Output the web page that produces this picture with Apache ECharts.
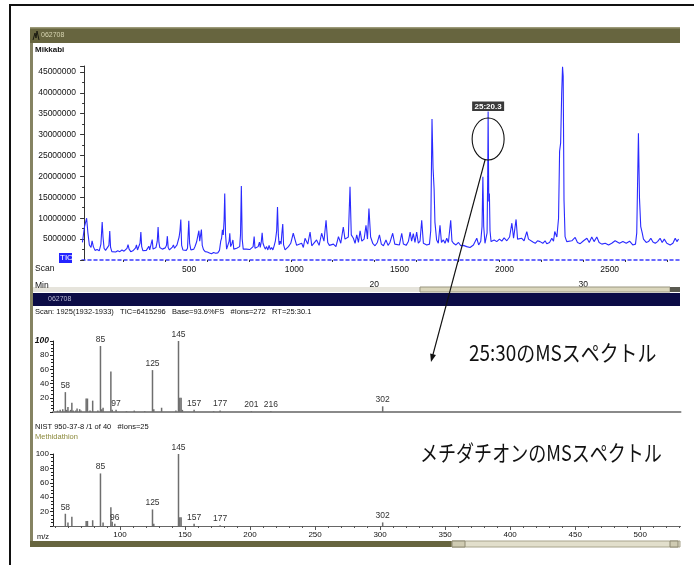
<!DOCTYPE html>
<html>
<head>
<meta charset="utf-8">
<script src="https://cdn.jsdelivr.net/npm/echarts@6/dist/echarts.min.js"></script>
<style>
  html, body { margin: 0; padding: 0; background: #fff; }
  #c { width: 694px; height: 565px; }
</style>
</head>
<body>
<div id="c"></div>
<script>
// ---- Total ion chromatogram: [scan, abundance] ----
const ticTrace = [
  [-8,4.2e6],[2,8.0e6],[12,10.0e6],[18,6.5e6],[25,3.6e6],[33,3.0e6],[38,4.6e6],[44,3.2e6],[52,2.3e6],[62,2.5e6],
  [72,2.2e6],[80,3.8e6],[86,9.1e6],[90,5.5e6],[95,2.8e6],[102,2.3e6],[110,2.4e6],[118,3.5e6],[122,6.9e6],[126,3.0e6],
  [132,2.0e6],[140,2.3e6],[150,1.9e6],[160,2.2e6],[170,2.0e6],[180,2.4e6],[190,2.1e6],[198,2.3e6],[204,2.8e6],[209,3.7e6],
  [214,2.6e6],[222,2.0e6],[232,2.2e6],[240,2.5e6],[245,2.9e6],[249,3.6e6],[254,2.4e6],[260,2.8e6],[266,4.0e6],[270,6.7e6],
  [274,3.2e6],[280,2.2e6],[288,2.5e6],[296,2.3e6],[302,2.6e6],[308,3.3e6],[312,2.4e6],[318,2.8e6],[324,4.9e6],[328,2.6e6],
  [334,2.5e6],[342,3.0e6],[348,4.5e6],[352,7.9e6],[356,4.2e6],[360,3.0e6],[366,3.3e6],[372,2.6e6],[380,2.4e6],[386,2.9e6],
  [392,3.5e6],[396,5.7e6],[400,3.0e6],[406,2.4e6],[414,2.6e6],[420,3.1e6],[425,3.6e6],[430,2.8e6],[436,3.2e6],[442,3.6e6],
  [448,4.0e6],[452,5.5e6],[456,7.0e6],[460,9.7e6],[464,3.5e6],[470,2.4e6],[478,2.6e6],[486,2.3e6],[492,2.8e6],[498,9.4e6],
  [502,4.0e6],[508,2.4e6],[516,2.2e6],[522,2.6e6],[528,3.3e6],[535,4.3e6],[540,4.5e6],[546,7.0e6],[550,4.5e6],[554,4.8e6],
  [558,7.3e6],[562,3.5e6],[568,2.5e6],[576,2.0e6],[586,1.9e6],[596,1.7e6],[606,1.5e6],[616,1.8e6],[626,1.6e6],[636,1.7e6],
  [644,2.3e6],[650,4.5e6],[654,5.2e6],[658,7.2e6],[662,6.0e6],[666,9.5e6],[669,15.9e6],[673,6.0e6],[678,2.6e6],[684,3.0e6],
  [690,4.5e6],[693,6.4e6],[697,3.2e6],[703,3.9e6],[708,4.8e6],[712,2.6e6],[718,2.4e6],[726,2.8e6],[734,2.6e6],[740,3.2e6],
  [744,6.0e6],[748,17.7e6],[752,5.0e6],[757,2.6e6],[764,2.4e6],[772,2.6e6],[780,2.3e6],[788,2.5e6],[796,2.6e6],[804,3.2e6],
  [809,5.6e6],[813,2.8e6],[820,2.5e6],[828,3.2e6],[834,4.3e6],[838,3.0e6],[843,4.4e6],[847,6.5e6],[851,4.0e6],[856,3.3e6],
  [862,2.6e6],[868,3.2e6],[874,2.4e6],[880,3.5e6],[886,2.5e6],[892,3.0e6],[898,2.4e6],[904,3.4e6],[910,4.6e6],[916,7.0e6],
  [920,12.7e6],[924,6.0e6],[928,3.6e6],[932,4.5e6],[937,3.8e6],[941,6.5e6],[945,8.6e6],[949,3.6e6],[956,2.4e6],[972,3.2e6],
  [983,4.0e6],[995,6.4e6],[1003,6.8e6],[1011,3.5e6],[1019,3.2e6],[1035,4.0e6],[1043,3.0e6],[1051,5.2e6],[1064,3.8e6],[1075,6.7e6],
  [1083,3.4e6],[1091,3.8e6],[1106,4.8e6],[1118,3.5e6],[1130,6.4e6],[1141,4.5e6],[1151,9.5e6],[1159,4.2e6],[1167,3.5e6],[1186,3.8e6],
  [1198,3.2e6],[1210,5.6e6],[1221,4.0e6],[1233,7.9e6],[1241,5.0e6],[1249,4.6e6],[1257,5.5e6],[1265,17.5e6],[1271,6.0e6],[1281,5.2e6],
  [1289,4.0e6],[1297,6.0e6],[1305,4.2e6],[1313,7.0e6],[1321,4.5e6],[1332,5.0e6],[1341,8.3e6],[1348,5.0e6],[1355,12.3e6],[1363,5.5e6],
  [1373,4.0e6],[1384,3.4e6],[1395,4.2e6],[1405,6.0e6],[1414,3.8e6],[1424,3.4e6],[1436,4.8e6],[1446,3.5e6],[1455,4.2e6],[1468,6.4e6],
  [1478,3.8e6],[1487,4.0e6],[1500,3.6e6],[1511,6.4e6],[1519,3.8e6],[1532,3.5e6],[1543,4.5e6],[1551,6.7e6],[1558,4.5e6],[1566,6.3e6],
  [1574,4.2e6],[1582,6.7e6],[1590,4.0e6],[1598,4.5e6],[1606,9.5e6],[1614,4.0e6],[1630,3.6e6],[1643,3.8e6],[1649,7.0e6],[1655,33.7e6],
  [1660,22.0e6],[1665,17.0e6],[1669,9.0e6],[1677,4.8e6],[1685,4.0e6],[1693,8.3e6],[1700,4.2e6],[1709,4.8e6],[1717,4.0e6],[1725,5.2e6],
  [1733,4.2e6],[1744,9.5e6],[1750,4.5e6],[1757,4.0e6],[1769,3.6e6],[1781,4.2e6],[1792,3.4e6],[1804,3.5e6],[1820,3.2e6],[1836,3.0e6],
  [1852,3.6e6],[1868,5.2e6],[1877,3.6e6],[1887,4.5e6],[1893,8.0e6],[1897,19.9e6],[1901,8.0e6],[1907,4.0e6],[1913,4.2e6],[1917,6.5e6],
  [1920,20.0e6],[1922,35.5e6],[1925,14.0e6],[1928,15.9e6],[1931,7.0e6],[1936,4.4e6],[1943,4.2e6],[1951,4.8e6],[1963,4.4e6],[1976,5.0e6],
  [1987,4.5e6],[1998,5.3e6],[2011,4.6e6],[2024,5.5e6],[2035,8.8e6],[2043,5.2e6],[2049,5.5e6],[2055,9.7e6],[2062,5.0e6],[2071,4.6e6],
  [2082,5.2e6],[2093,4.6e6],[2106,6.8e6],[2114,5.0e6],[2122,5.2e6],[2135,4.3e6],[2146,4.0e6],[2157,4.6e6],[2169,4.4e6],[2182,4.0e6],
  [2193,4.6e6],[2201,3.9e6],[2214,4.2e6],[2225,5.2e6],[2233,4.5e6],[2239,6.8e6],[2249,5.5e6],[2257,10.0e6],[2262,26.0e6],[2267,28.0e6],
  [2272,40.0e6],[2276,46.2e6],[2279,44.0e6],[2283,14.3e6],[2288,5.6e6],[2296,4.4e6],[2304,4.0e6],[2320,4.6e6],[2336,5.4e6],[2347,4.2e6],
  [2360,3.9e6],[2376,4.6e6],[2392,5.2e6],[2403,4.2e6],[2415,5.5e6],[2426,4.4e6],[2439,5.5e6],[2450,4.2e6],[2463,3.8e6],[2479,4.0e6],
  [2495,3.6e6],[2510,4.0e6],[2526,4.6e6],[2534,5.0e6],[2547,4.0e6],[2563,4.4e6],[2579,4.0e6],[2595,4.5e6],[2610,3.6e6],[2623,3.8e6],
  [2629,6.5e6],[2637,30.3e6],[2642,14.8e6],[2648,8.0e6],[2655,6.5e6],[2661,5.0e6],[2674,4.2e6],[2685,4.4e6],[2696,5.2e6],[2706,4.3e6],
  [2717,4.0e6],[2728,4.4e6],[2740,5.2e6],[2750,4.2e6],[2760,5.0e6],[2772,4.0e6],[2788,3.6e6],[2801,4.0e6],[2812,5.2e6],[2820,4.4e6],
  [2828,5.0e6]
];
const ticScanTicks = [500, 1000, 1500, 2000, 2500];
const ticMinuteTicks = [8, 10, 12, 14, 16, 18, 20, 22, 24, 26, 28, 30, 32, 34];
const ticMinuteLabels = [20, 30];
const selectedScan = 1922;           // apex picked for the spectrum below

// ---- Mass spectrum at the selected scan: [m/z, relative abundance %] ----
const scanSpectrum = [
  [52,2],[54,3],[56,4],[58,28],[59,3],[60,7],[62,3],[63,13],[64,2],[66,2],[67,5],[69,4],[70,2],
  [74,19],[75,19],[77,2],[79,16],[83,2],[85,93],[86,4],[87,6],[93,57],[94,3],[97,3],[105,1],
  [111,2],[119,1],[125,59],[126,4],[132,6],[143,2],[145,100],[146,20],[147,20],[148,3],[157,3],
  [172,1],[177,2],[201,1],[216,1],[302,8]
];
const scanLabelled = [58, 85, 97, 125, 145, 157, 177, 201, 216, 302];

// ---- Library spectrum (Methidathion) ----
const librarySpectrum = [
  [58,17],[60,5],[63,13],[74,7],[75,7],[79,8],[85,73],[87,5],[93,26],[94,6],[96,3],
  [125,23],[126,3],[145,100],[146,12],[147,12],[157,3],[177,1],[302,5]
];
const libraryLabelled = [58, 85, 96, 125, 145, 157, 177, 302];

const mzLabels = [100, 150, 200, 250, 300, 350, 400, 450, 500];
const mzMinorTicks = [50,60,70,80,90,100,110,120,130,140,150,160,170,180,190,200,210,220,230,240,250,
  260,270,280,290,300,310,320,330,340,350,360,370,380,390,400,410,420,430,440,450,460,470,480,490,500,510,520,530];

// ---- axis ranges ----
const SCAN_MIN = -10, SCAN_MAX = 2830;
const RT_AT_SCAN0 = 6.11, SCANS_PER_MIN = 99.4;
const TIC_MAX = 46.4e6;
const MZ_MIN = 48.5, MZ_MAX = 531;

const FONT = "'Liberation Sans', Arial, sans-serif";
const JP = "'Noto Sans CJK JP', sans-serif";
const plain = function (v) { return String(Math.round(v)); };

function barItems(spec, labelled) {
  return spec.map(function (p) {
    const item = { value: p };
    if (labelled.indexOf(p[0]) >= 0) {
      item.label = { show: true, position: 'top', distance: 2, formatter: String(p[0]),
        fontSize: 8.5, color: '#333', fontFamily: FONT };
    }
    return item;
  });
}

const specYAxis = function (gridIndex, boldTop) {
  return {
    gridIndex: gridIndex, type: 'value', min: 0, max: 100, interval: 20,
    axisLine: { show: true, lineStyle: { color: '#222', width: 1 } },
    axisTick: { show: true, length: 3, lineStyle: { color: '#222' } },
    minorTick: { show: true, splitNumber: 4, length: 2, lineStyle: { color: '#222' } },
    splitLine: { show: false },
    axisLabel: {
      showMinLabel: false, margin: 4, fontSize: 8, color: '#111', fontFamily: FONT,
      formatter: function (v) { return (boldTop && v === 100) ? '{b|100}' : String(v); },
      rich: { b: { fontStyle: 'italic', fontWeight: 'bold', fontSize: 8.5, fontFamily: FONT } }
    }
  };
};

const option = {
  animation: false,
  backgroundColor: '#fff',
  grid: [
    { left: 82, top: 66, width: 597, height: 194 },
    { left: 53, top: 341, width: 627.5, height: 71 },
    { left: 53, top: 454, width: 627.5, height: 72 }
  ],
  xAxis: [
    { // scan number
      gridIndex: 0, type: 'value', min: SCAN_MIN, max: SCAN_MAX, position: 'bottom',
      axisLine: { show: true, onZero: false, lineStyle: { color: '#3a3aff', width: 1.5, type: [3, 3] } },
      axisTick: { show: false },
      splitLine: { show: false },
      axisLabel: { customValues: ticScanTicks, formatter: plain, margin: 5, fontSize: 8.5, color: '#111', fontFamily: FONT }
    },
    { // retention time in minutes
      gridIndex: 0, type: 'value', position: 'bottom', offset: 15,
      min: RT_AT_SCAN0 + SCAN_MIN / SCANS_PER_MIN, max: RT_AT_SCAN0 + SCAN_MAX / SCANS_PER_MIN,
      axisLine: { show: false },
      axisTick: { show: true, customValues: ticMinuteTicks, length: 2, lineStyle: { color: '#333' } },
      splitLine: { show: false },
      axisLabel: { customValues: ticMinuteLabels, formatter: plain, margin: 5, fontSize: 8.5, color: '#111', fontFamily: FONT }
    },
    { // sample spectrum m/z
      gridIndex: 1, type: 'value', min: MZ_MIN, max: MZ_MAX,
      axisLine: { show: true, onZero: false, lineStyle: { color: '#8a8a8a', width: 2 } },
      axisTick: { show: false }, axisLabel: { show: false }, splitLine: { show: false }
    },
    { // library spectrum m/z
      gridIndex: 2, type: 'value', min: MZ_MIN, max: MZ_MAX,
      axisLine: { show: true, onZero: false, lineStyle: { color: '#666', width: 1 } },
      axisTick: { show: true, customValues: mzMinorTicks, length: 2, lineStyle: { color: '#555' } },
      splitLine: { show: false },
      axisLabel: { customValues: mzLabels, formatter: plain, margin: 5, fontSize: 8, color: '#111', fontFamily: FONT }
    },
    { // longer ticks at each labelled m/z
      gridIndex: 2, type: 'value', min: MZ_MIN, max: MZ_MAX,
      axisLine: { show: false },
      axisTick: { show: true, inside: true, customValues: mzLabels, length: 4, lineStyle: { color: '#555' } },
      axisLabel: { show: false }, splitLine: { show: false }
    }
  ],
  yAxis: [
    {
      gridIndex: 0, type: 'value', min: 0, max: TIC_MAX, interval: 5e6,
      axisLine: { show: true, lineStyle: { color: '#333', width: 1 } },
      axisTick: { show: true, length: 4, lineStyle: { color: '#333' } },
      minorTick: { show: true, splitNumber: 2, length: 2, lineStyle: { color: '#333' } },
      splitLine: { show: false },
      axisLabel: { showMinLabel: false, showMaxLabel: false, margin: 6, fontSize: 8.5, color: '#111',
        fontFamily: FONT, formatter: plain }
    },
    specYAxis(1, true),
    specYAxis(2, false)
  ],
  series: [
    {
      name: 'TIC', type: 'line', xAxisIndex: 0, yAxisIndex: 0, data: ticTrace,
      showSymbol: false, smooth: false,
      lineStyle: { color: '#2a2aff', width: 1.1 }, itemStyle: { color: '#2a2aff' }
    },
    {
      name: 'Scan 1925', type: 'bar', xAxisIndex: 2, yAxisIndex: 1, barWidth: 1.5,
      data: barItems(scanSpectrum, scanLabelled), itemStyle: { color: '#6e6e6e' }
    },
    {
      name: 'Methidathion', type: 'bar', xAxisIndex: 3, yAxisIndex: 2, barWidth: 1.5,
      data: barItems(librarySpectrum, libraryLabelled), itemStyle: { color: '#6e6e6e' }
    }
  ]
};

const chart = echarts.init(document.getElementById('c'));
chart.setOption(option);

// ---- window chrome, captions and the peak annotation ----
const apexPoint = ticTrace.find(function (p) { return p[0] === selectedScan; });
const apex = chart.convertToPixel({ xAxisIndex: 0, yAxisIndex: 0 }, apexPoint);
const ax = apex[0], ay = apex[1];
const arrowFrom = [ax - 3, ay + 48];
const arrowTo = [431, 362];
const dx = arrowTo[0] - arrowFrom[0], dy = arrowTo[1] - arrowFrom[1];
const len = Math.sqrt(dx * dx + dy * dy), ux = dx / len, uy = dy / len;
const head = [
  [arrowTo[0], arrowTo[1]],
  [arrowTo[0] - ux * 8 - uy * 3, arrowTo[1] - uy * 8 + ux * 3],
  [arrowTo[0] - ux * 8 + uy * 3, arrowTo[1] - uy * 8 - ux * 3]
];

const text = function (x, y, s, extra) {
  return { type: 'text', x: x, y: y, z: 20,
    style: Object.assign({ text: s, fontSize: 8.5, fill: '#111', fontFamily: FONT, verticalAlign: 'middle' }, extra || {}) };
};

chart.setOption({
  graphic: { elements: [
    // outer frame
    { type: 'polyline', shape: { points: [[10, 565], [10, 5], [694, 5]] }, style: { stroke: '#111', lineWidth: 2, fill: null }, z: 30 },
    // window left border
    { type: 'rect', shape: { x: 30, y: 27, width: 3, height: 520 }, style: { fill: '#858362' }, z: 10 },
    // title bar
    { type: 'rect', shape: { x: 30, y: 27, width: 650, height: 16 }, style: { fill: '#67653f' }, z: 10 },
    { type: 'rect', shape: { x: 30, y: 27, width: 650, height: 1.5 }, style: { fill: '#9c9a78' }, z: 11 },
    { type: 'polyline', shape: { points: [[33, 40], [35, 33], [36, 38], [37, 31], [39, 40]] }, style: { stroke: '#1a1a10', lineWidth: 1, fill: null }, z: 12 },
    text(41, 35.5, '062708', { fontSize: 7, fill: '#d6d4b0' }),
    text(35, 50, 'Mikkabi', { fontWeight: 'bold', fontSize: 8 }),
    // TIC badge
    { type: 'rect', shape: { x: 59, y: 253, width: 13, height: 10 }, style: { fill: '#2424ff' }, z: 15 },
    text(60, 258, 'TIC', { fontSize: 8, fill: '#fff' }),
    text(35, 269, 'Scan', { fontSize: 8.5 }),
    text(35, 286, 'Min', { fontSize: 8.5 }),
    // horizontal scroll bar under the chromatogram
    { type: 'rect', shape: { x: 33, y: 287, width: 647, height: 5 }, style: { fill: '#e6e4dc' }, z: 10 },
    { type: 'rect', shape: { x: 420, y: 287, width: 250, height: 5 }, style: { fill: '#dad6bc', stroke: '#9a9680', lineWidth: 1 }, z: 11 },
    { type: 'rect', shape: { x: 670, y: 287, width: 10, height: 5 }, style: { fill: '#5a5a50' }, z: 11 },
    // spectrum pane title bar
    { type: 'rect', shape: { x: 33, y: 293, width: 647, height: 13 }, style: { fill: '#0c0c46' }, z: 10 },
    text(48, 299.5, '062708', { fontSize: 7, fill: '#b8b8d2' }),
    text(35, 311.5, 'Scan: 1925(1932-1933)   TIC=6415296   Base=93.6%FS   #Ions=272   RT=25:30.1', { fontSize: 7.5 }),
    text(35, 427, 'NIST 950-37-8 /1 of 40   #Ions=25', { fontSize: 7.5 }),
    text(35, 437, 'Methidathion', { fontSize: 7.5, fill: '#8c8a3c' }),
    text(37, 537, 'm/z', { fontSize: 7.5 }),
    // bottom scroll bar
    { type: 'rect', shape: { x: 30, y: 541, width: 422, height: 6 }, style: { fill: '#67653f' }, z: 10 },
    { type: 'rect', shape: { x: 452, y: 541, width: 228, height: 6 }, style: { fill: '#e2dfcc', stroke: '#a8a48c', lineWidth: 1 }, z: 10 },
    { type: 'rect', shape: { x: 452, y: 541, width: 13, height: 6 }, style: { fill: '#cfcbb2', stroke: '#8c8870', lineWidth: 1 }, z: 11 },
    { type: 'rect', shape: { x: 670, y: 541, width: 8, height: 6 }, style: { fill: '#cfcbb2', stroke: '#8c8870', lineWidth: 1 }, z: 11 },
    // peak annotation
    { type: 'rect', shape: { x: ax - 16, y: ay - 10, width: 32, height: 9.5 }, style: { fill: '#3a3a3a' }, z: 22 },
    { type: 'text', x: ax, y: ay - 5.2, z: 23, style: { text: '25:20.3', fontSize: 8, fontWeight: 'bold', fill: '#fff', fontFamily: FONT, align: 'center', verticalAlign: 'middle' } },
    { type: 'ellipse', shape: { cx: ax, cy: ay + 27.5, rx: 16, ry: 21 }, style: { stroke: '#111', lineWidth: 1.1, fill: null }, z: 22 },
    { type: 'line', shape: { x1: arrowFrom[0], y1: arrowFrom[1], x2: arrowTo[0] - ux * 6, y2: arrowTo[1] - uy * 6 }, style: { stroke: '#111', lineWidth: 1.2 }, z: 22 },
    { type: 'polygon', shape: { points: head }, style: { fill: '#111' }, z: 22 },
    // captions
    { type: 'text', x: 469, y: 353, scaleX: 0.86, z: 22, style: { text: '25:30のMSスペクトル', fontSize: 22, fill: '#111', fontFamily: JP, verticalAlign: 'middle' } },
    { type: 'text', x: 420, y: 453, scaleX: 0.82, z: 22, style: { text: 'メチダチオンのMSスペクトル', fontSize: 22, fill: '#111', fontFamily: JP, verticalAlign: 'middle' } }
  ] }
});
</script>
</body>
</html>
